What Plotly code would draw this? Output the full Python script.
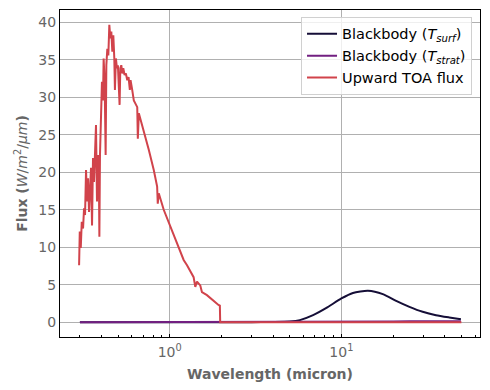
import plotly.graph_objects as go
import math

# Upward TOA flux (wavelength in micron, flux in W/m2/um)
toa_wl = [0.2967, 0.2994, 0.3034, 0.3075, 0.3129, 0.3171, 0.3214, 0.3257, 0.3301, 0.3345,
          0.3390, 0.3436, 0.3482, 0.3529, 0.3576, 0.3624, 0.3673, 0.3722, 0.3772, 0.3823,
          0.3874, 0.3895, 0.3926, 0.3979, 0.4032, 0.4086, 0.4124, 0.4180, 0.4236, 0.4276,
          0.4333, 0.4392, 0.4451, 0.4511, 0.4571, 0.4633, 0.4695, 0.4758, 0.4797, 0.4861,
          0.4927, 0.4993, 0.5108, 0.5157, 0.5226, 0.5296, 0.5367, 0.5460, 0.5556, 0.5661,
          0.5760, 0.5861, 0.5916, 0.6049, 0.6180, 0.6471, 0.6523, 0.6611, 0.7066, 0.7554,
          0.8077, 0.8451, 0.8520, 0.8635, 0.9231, 1.0094, 1.1039, 1.2058, 1.2617, 1.3781,
          1.4096, 1.4419, 1.5070, 1.5414, 1.6480, 1.7222, 1.9240, 1.9600, 1.9684, 5.0, 50.0]
toa_flux = [7.6, 12.1, 9.9, 13.4, 12.5, 15.2, 14.3, 20.3, 16.1, 19.2,
            14.7, 18.7, 20.6, 12.9, 21.9, 18.7, 22.3, 26.3, 16.1, 22.3,
            17.8, 11.4, 22.3, 27.6, 32.1, 29.6, 35.2, 32.1, 22.3, 34.3,
            36.5, 35.6, 39.7, 37.9, 38.8, 36.1, 38.3, 35.2, 31.0, 35.2,
            33.9, 34.3, 29.0, 33.9, 34.3, 33.2, 33.9, 33.0, 33.2, 32.3,
            32.7, 31.0, 32.3, 31.0, 29.6, 28.7, 24.5, 27.9, 25.6, 23.0,
            20.3, 18.1, 15.8, 17.2, 15.0, 12.7, 10.5, 8.3, 7.6, 6.0,
            4.7, 5.4, 4.9, 4.0, 3.6, 3.2, 2.3, 2.2, 0.0, 0.0, 0.0]

# Blackbody at surface temperature
bbs_wl = [0.3, 1.0, 3.0, 4.0, 5.01, 5.73, 6.84, 8.18, 10.0, 11.68, 14.27, 17.43, 20.84,
          24.90, 29.74, 35.56, 42.48, 49.67]
bbs_flux = [0.0, 0.0, 0.0, 0.02, 0.08, 0.27, 0.93, 1.9, 3.16, 3.9, 4.18, 3.74, 2.84,
            2.04, 1.38, 0.93, 0.63, 0.40]

# Blackbody at stratospheric temperature
bbt_wl = [0.3, 1.0, 5.0, 8.0, 12.0, 16.0, 20.0, 25.0, 30.0, 40.0, 49.67]
bbt_flux = [0.0, 0.0, 0.0, 0.005, 0.03, 0.07, 0.10, 0.13, 0.14, 0.14, 0.13]

xticks = [1, 10]
xticklabels = ["10<sup>0</sup>", "10<sup>1</sup>"]
minor_ticks = [0.3, 0.4, 0.5, 0.6, 0.7, 0.8, 0.9, 2, 3, 4, 5, 6, 7, 8, 9, 20, 30, 40, 50, 60]
yticks = [0, 5, 10, 15, 20, 25, 30, 35, 40]

FONT = "DejaVu Sans"
GRAY = "#666666"

fig = go.Figure()
fig.add_trace(go.Scatter(x=bbs_wl, y=bbs_flux, mode="lines",
                         line=dict(color="#150e37", width=2, shape="spline", smoothing=0.6),
                         name="Blackbody (<i>T</i><sub><i>surf</i></sub>)"))
fig.add_trace(go.Scatter(x=bbt_wl, y=bbt_flux, mode="lines",
                         line=dict(color="#721f81", width=2),
                         name="Blackbody (<i>T</i><sub><i>strat</i></sub>)"))
fig.add_trace(go.Scatter(x=toa_wl, y=toa_flux, mode="lines",
                         line=dict(color="#d1434b", width=2),
                         name="Upward TOA flux"))

lo = math.log10(0.2967)
hi = math.log10(49.67)
pad = (hi - lo) * 0.05

fig.update_layout(
    width=490, height=390,
    margin=dict(l=52, r=18, t=2, b=61),
    paper_bgcolor="white", plot_bgcolor="white",
    font=dict(family=FONT, size=14, color=GRAY),
    showlegend=True,
    legend=dict(x=0.981, y=0.979, xanchor="right", yanchor="top",
                bgcolor="rgba(255,255,255,0.8)", bordercolor="#d0d0d0", borderwidth=1,
                font=dict(family=FONT, size=14.5, color="black"),
                tracegroupgap=0, itemwidth=30),
    xaxis=dict(type="log", range=[lo - pad, hi + pad], automargin=False,
               tickvals=xticks, ticktext=xticklabels,
               ticks="inside", ticklen=3.5, tickcolor="black",
               ticklabelstandoff=2,
               showgrid=True, gridcolor="#b0b0b0", gridwidth=1,
               showline=True, linecolor="black", linewidth=1, mirror=True,
               zeroline=False,
               tickfont=dict(family=FONT, size=14, color=GRAY),
               minor=dict(tickvals=minor_ticks, ticks="inside", ticklen=2,
                          tickcolor="black", showgrid=False),
               title=dict(text="<b>Wavelength (micron)</b>", standoff=10,
                          font=dict(family=FONT, size=14, color=GRAY))),
    yaxis=dict(range=[-1.985, 41.67], tickvals=yticks, automargin=False,
               ticks="", showgrid=True, gridcolor="#b0b0b0", gridwidth=1,
               showline=True, linecolor="black", linewidth=1, mirror=True,
               zeroline=False,
               tickfont=dict(family=FONT, size=14, color=GRAY),
               title=dict(text="<b>Flux (</b><i>W</i>/<i>m</i><sup>2</sup>/<i>μm</i><b>)</b>",
                          standoff=7,
                          font=dict(family=FONT, size=14, color=GRAY))),
)

fig.write_html("out.html")
